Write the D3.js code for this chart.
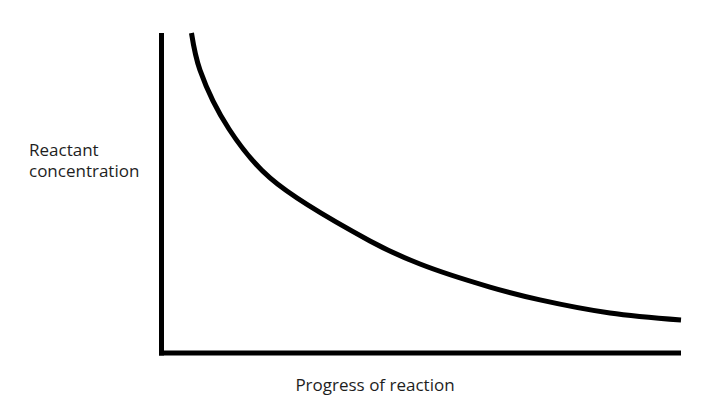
<!DOCTYPE html>
<html><head><meta charset="utf-8">
<script src="https://cdn.jsdelivr.net/npm/d3@7"></script>
<style>body{margin:0;background:#fff;}svg{display:block;}</style>
</head><body>
<script>
const progress = [5.77, 7.41, 12.99, 20.89, 40.13, 49.76, 63.23, 72.86, 86.33, 100];
const concentration = [100, 88.4, 70.0, 54.7, 35.0, 27.8, 20.6, 16.6, 12.5, 10.3];
const xLabel = "Progress of reaction";
const yLabelLines = ["Reactant", "concentration"];

const W = 709, H = 407;
const svg = d3.select("body").append("svg").attr("width", W).attr("height", H);
const x = d3.scaleLinear().domain([0, 100]).range([161.5, 681]);
const y = d3.scaleLinear().domain([0, 100]).range([353, 33]);

// axes
svg.append("line").attr("x1", x(0)).attr("x2", x(0)).attr("y1", y(100)).attr("y2", y(0) + 2.5)
  .attr("stroke", "#000").attr("stroke-width", 5);
svg.append("line").attr("x1", x(0) - 2.5).attr("x2", x(100)).attr("y1", y(0)).attr("y2", y(0))
  .attr("stroke", "#000").attr("stroke-width", 5);

const data = progress.map((p, i) => ({p, c: concentration[i]}));
svg.append("path").datum(data)
  .attr("d", d3.line().x(d => x(d.p)).y(d => y(d.c)).curve(d3.curveCatmullRom.alpha(0.5)))
  .attr("fill", "none").attr("stroke", "#000").attr("stroke-width", 5);

const font = "'Open Sans', sans-serif";
const yl = svg.append("text").attr("font-family", font).attr("font-size", 17).attr("fill", "#1e1e1e");
yLabelLines.forEach((t, i) => yl.append("tspan").attr("x", 29).attr("y", 156 + i * 21).text(t));
svg.append("text").attr("x", 375).attr("y", 391).attr("text-anchor", "middle")
  .attr("font-family", font).attr("font-size", 17).attr("fill", "#1e1e1e").text(xLabel);
</script>
</body></html>
